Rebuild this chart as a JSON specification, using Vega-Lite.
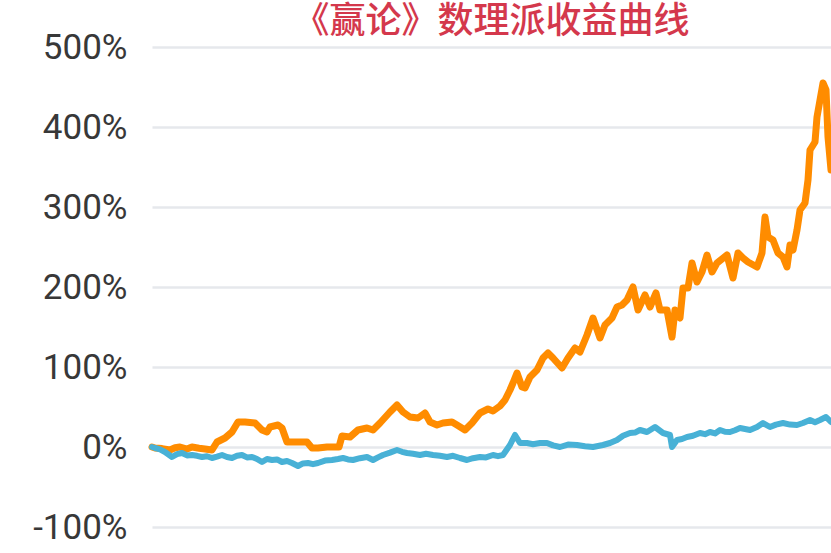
{
  "$schema": "https://vega.github.io/schema/vega-lite/v6.json",
  "autosize": {"type": "none"},
  "padding": {"left": 152, "top": 47, "right": 0, "bottom": 26},
  "width": 679,
  "height": 480,
  "title": {
    "text": "《赢论》数理派收益曲线",
    "font": "Noto Sans CJK SC",
    "fontSize": 36,
    "fontWeight": 500,
    "color": "#d4384c",
    "anchor": "middle",
    "frame": "group",
    "baseline": "alphabetic",
    "offset": -39
  },
  "config": {
    "view": {"stroke": null},
    "axis": {"title": null}
  },
  "datasets": {
    "strategy": [
      {"t": 0, "r": 0}, {"t": 3, "r": -1.25}, {"t": 10, "r": -2}, {"t": 18, "r": -3.75}, {"t": 23, "r": -1},
      {"t": 28, "r": 0}, {"t": 35, "r": -2.5}, {"t": 40, "r": 0}, {"t": 47, "r": -1.5}, {"t": 53, "r": -2.5},
      {"t": 60, "r": -3.75}, {"t": 65, "r": 6.25}, {"t": 73, "r": 11.25}, {"t": 80, "r": 18.75}, {"t": 86, "r": 31.25},
      {"t": 93, "r": 31.25}, {"t": 103, "r": 30}, {"t": 110, "r": 21.25}, {"t": 115, "r": 18.75}, {"t": 118, "r": 25},
      {"t": 126, "r": 27.5}, {"t": 130, "r": 23.75}, {"t": 135, "r": 6.25}, {"t": 143, "r": 6.25}, {"t": 155, "r": 6.25},
      {"t": 160, "r": -1.25}, {"t": 166, "r": -1.25}, {"t": 175, "r": 0}, {"t": 187, "r": 0}, {"t": 190, "r": 13.75},
      {"t": 198, "r": 12.5}, {"t": 206, "r": 21.25}, {"t": 215, "r": 23.75}, {"t": 221, "r": 21.25}, {"t": 228, "r": 30},
      {"t": 238, "r": 43.75}, {"t": 245, "r": 52.5}, {"t": 251, "r": 43.75}, {"t": 258, "r": 37.5}, {"t": 266, "r": 36.25},
      {"t": 273, "r": 42.5}, {"t": 278, "r": 31.25}, {"t": 285, "r": 27.5}, {"t": 291, "r": 30}, {"t": 300, "r": 31.25},
      {"t": 305, "r": 27.5}, {"t": 313, "r": 21.25}, {"t": 320, "r": 30}, {"t": 328, "r": 42.5}, {"t": 336, "r": 47.5},
      {"t": 341, "r": 45}, {"t": 348, "r": 51.25}, {"t": 353, "r": 58.75}, {"t": 358, "r": 71.25}, {"t": 361, "r": 80},
      {"t": 365, "r": 92.5}, {"t": 370, "r": 75}, {"t": 373, "r": 73.75}, {"t": 378, "r": 87.5}, {"t": 385, "r": 96.25},
      {"t": 391, "r": 111.25}, {"t": 396, "r": 117.5}, {"t": 401, "r": 111.25}, {"t": 410, "r": 98.75}, {"t": 416, "r": 111.25},
      {"t": 423, "r": 123.75}, {"t": 428, "r": 118.75}, {"t": 435, "r": 140}, {"t": 441, "r": 161.25}, {"t": 448, "r": 136.25},
      {"t": 453, "r": 152.5}, {"t": 460, "r": 161.25}, {"t": 465, "r": 175}, {"t": 470, "r": 177.5}, {"t": 475, "r": 183.75},
      {"t": 481, "r": 200}, {"t": 486, "r": 171.25}, {"t": 493, "r": 190}, {"t": 498, "r": 175}, {"t": 504, "r": 192.5},
      {"t": 508, "r": 171.25}, {"t": 515, "r": 171.25}, {"t": 520, "r": 137.5}, {"t": 523, "r": 171.25}, {"t": 528, "r": 161.25},
      {"t": 531, "r": 198.75}, {"t": 536, "r": 198.75}, {"t": 540, "r": 230}, {"t": 545, "r": 206.25}, {"t": 550, "r": 218.75},
      {"t": 555, "r": 240}, {"t": 560, "r": 218.75}, {"t": 565, "r": 230}, {"t": 575, "r": 240}, {"t": 581, "r": 211.25},
      {"t": 586, "r": 242.5}, {"t": 591, "r": 236.25}, {"t": 596, "r": 231.25}, {"t": 605, "r": 225}, {"t": 610, "r": 242.5},
      {"t": 613, "r": 287.5}, {"t": 616, "r": 262.5}, {"t": 621, "r": 258.75}, {"t": 626, "r": 242.5}, {"t": 631, "r": 237.5},
      {"t": 635, "r": 225}, {"t": 638, "r": 252.5}, {"t": 641, "r": 246.25}, {"t": 645, "r": 271.25}, {"t": 648, "r": 296.25},
      {"t": 653, "r": 305}, {"t": 656, "r": 333.75}, {"t": 658, "r": 371.25}, {"t": 663, "r": 381.25}, {"t": 665, "r": 412.5},
      {"t": 668, "r": 433.75}, {"t": 671, "r": 455}, {"t": 674, "r": 446.25}, {"t": 676, "r": 387.5}, {"t": 679, "r": 346.25}
    ],
    "benchmark": [
      {"t": 0, "r": 0}, {"t": 3, "r": -1.25}, {"t": 8, "r": -3}, {"t": 13, "r": -6.25}, {"t": 20, "r": -12.5}, {"t": 25, "r": -9},
      {"t": 30, "r": -7.5}, {"t": 35, "r": -10.5}, {"t": 40, "r": -10}, {"t": 45, "r": -11}, {"t": 50, "r": -12.5}, {"t": 55, "r": -11.5},
      {"t": 60, "r": -13.75}, {"t": 65, "r": -12}, {"t": 70, "r": -10}, {"t": 75, "r": -12.5}, {"t": 80, "r": -13.75}, {"t": 85, "r": -11},
      {"t": 90, "r": -10}, {"t": 95, "r": -13}, {"t": 100, "r": -12.5}, {"t": 105, "r": -15}, {"t": 110, "r": -18.75}, {"t": 115, "r": -15},
      {"t": 120, "r": -16.25}, {"t": 125, "r": -15.5}, {"t": 130, "r": -18.75}, {"t": 135, "r": -17.5},
      {"t": 140, "r": -20}, {"t": 146, "r": -23.75}, {"t": 151, "r": -20.5}, {"t": 156, "r": -20}, {"t": 161, "r": -21.5}, {"t": 166, "r": -20},
      {"t": 173, "r": -17}, {"t": 180, "r": -16.25}, {"t": 186, "r": -15},
      {"t": 191, "r": -13.75}, {"t": 196, "r": -15.5}, {"t": 201, "r": -16.25}, {"t": 208, "r": -14}, {"t": 215, "r": -12.5}, {"t": 221, "r": -16.25},
      {"t": 226, "r": -13}, {"t": 231, "r": -10}, {"t": 238, "r": -7}, {"t": 245, "r": -3.75}, {"t": 250, "r": -6}, {"t": 255, "r": -7.5},
      {"t": 261, "r": -8.5}, {"t": 268, "r": -10}, {"t": 274, "r": -8.5}, {"t": 281, "r": -10}, {"t": 288, "r": -11}, {"t": 295, "r": -12.5},
      {"t": 301, "r": -11}, {"t": 308, "r": -13.75}, {"t": 315, "r": -16.25}, {"t": 321, "r": -14}, {"t": 328, "r": -12.5}, {"t": 334, "r": -13},
      {"t": 341, "r": -10}, {"t": 346, "r": -11.5}, {"t": 351, "r": -10},
      {"t": 358, "r": 2.5}, {"t": 363, "r": 15}, {"t": 368, "r": 5}, {"t": 375, "r": 5}, {"t": 381, "r": 3.5}, {"t": 388, "r": 5},
      {"t": 395, "r": 5}, {"t": 401, "r": 2}, {"t": 408, "r": 0}, {"t": 416, "r": 3}, {"t": 425, "r": 2.5}, {"t": 433, "r": 1}, {"t": 441, "r": 0}, {"t": 451, "r": 2.5},
      {"t": 458, "r": 5}, {"t": 465, "r": 8.75}, {"t": 471, "r": 14}, {"t": 478, "r": 17.5}, {"t": 483, "r": 18}, {"t": 488, "r": 21.25}, {"t": 495, "r": 18.75}, {"t": 503, "r": 25},
      {"t": 511, "r": 17.5}, {"t": 518, "r": 15}, {"t": 520, "r": 0}, {"t": 525, "r": 8.75}, {"t": 530, "r": 10}, {"t": 535, "r": 12.5},
      {"t": 541, "r": 14}, {"t": 548, "r": 17.5}, {"t": 553, "r": 16}, {"t": 558, "r": 18.75}, {"t": 563, "r": 17}, {"t": 568, "r": 21.25},
      {"t": 573, "r": 19}, {"t": 578, "r": 18.75}, {"t": 583, "r": 21}, {"t": 588, "r": 23.75},
      {"t": 598, "r": 21.25}, {"t": 605, "r": 25}, {"t": 611, "r": 30}, {"t": 618, "r": 25}, {"t": 624, "r": 28}, {"t": 631, "r": 30}, {"t": 638, "r": 28}, {"t": 645, "r": 27.5},
      {"t": 651, "r": 30}, {"t": 658, "r": 33.75}, {"t": 663, "r": 31}, {"t": 668, "r": 33.75}, {"t": 674, "r": 37.5}, {"t": 679, "r": 31.25}
    ]
  },
  "encoding": {
    "x": {"field": "t", "type": "quantitative", "scale": {"domain": [0, 679], "nice": false, "zero": false}, "axis": null},
    "y": {
      "field": "r",
      "type": "quantitative",
      "scale": {"domain": [-100, 500], "nice": false},
      "axis": {
        "values": [-100, 0, 100, 200, 300, 400, 500],
        "labelExpr": "datum.value + '%'",
        "labelFont": "Roboto",
        "labelFontSize": 35,
        "labelColor": "#383838",
        "labelPadding": 25,
        "domain": false,
        "ticks": false,
        "grid": true,
        "gridColor": "#e6e8ec",
        "gridWidth": 2.5
      }
    }
  },
  "layer": [
    {
      "data": {"name": "strategy"},
      "mark": {"type": "line", "color": "#ff8c00", "strokeWidth": 7, "strokeJoin": "round", "strokeCap": "round"}
    },
    {
      "data": {"name": "benchmark"},
      "mark": {"type": "line", "color": "#48b1d6", "strokeWidth": 6, "strokeJoin": "round", "strokeCap": "round"}
    }
  ]
}
